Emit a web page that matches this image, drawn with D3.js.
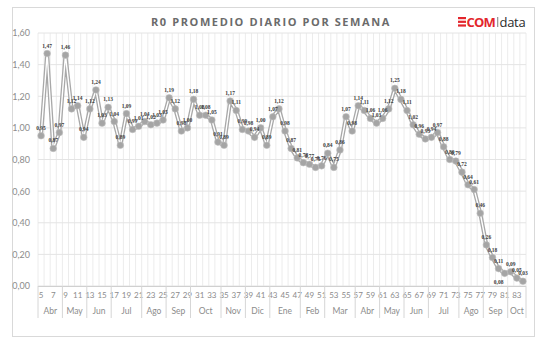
<!DOCTYPE html>
<html>
<head>
<meta charset="utf-8">
<script src="https://cdn.jsdelivr.net/npm/d3@7"></script>
<style>
html,body{margin:0;padding:0;background:#fff;}
svg{display:block;}
</style>
</head>
<body>
<script>
// ---- DATA ----
const weeks = [5,6,7,8,9,10,11,12,13,14,15,16,17,18,19,20,21,22,23,24,25,26,27,28,29,30,31,32,33,34,35,36,37,38,39,40,41,42,43,44,45,46,47,48,49,50,51,52,53,54,55,56,57,58,59,60,61,62,63,64,65,66,67,68,69,70,71,72,73,74,75,76,77,78,79,80,81,82,83,84];
const r0Values = [0.95,1.47,0.87,0.97,1.46,1.12,1.14,0.94,1.12,1.24,1.03,1.13,1.04,0.89,1.09,0.99,1.01,1.04,1.02,1.03,1.05,1.19,1.12,0.98,1.00,1.18,1.08,1.08,1.05,0.91,0.89,1.17,1.11,0.99,0.98,0.94,1.00,0.89,1.07,1.12,0.98,0.87,0.81,0.78,0.77,0.75,0.76,0.84,0.75,0.86,1.07,0.98,1.14,1.11,1.06,1.03,1.06,1.12,1.25,1.18,1.11,1.02,0.96,0.93,0.94,0.97,0.88,0.80,0.79,0.72,0.64,0.61,0.46,0.26,0.18,0.11,0.08,0.09,0.05,0.03];
const monthLabels = ["Abr","May","Jun","Jul","Ago","Sep","Oct","Nov","Dic","Ene","Feb","Mar","Abr","May","Jun","Jul","Ago","Sep","Oct"];
const monthWeekCounts = [4,4,4,5,4,4,5,4,4,5,4,5,4,4,4,5,4,4,3];
const yTicks = [0,0.2,0.4,0.6,0.8,1.0,1.2,1.4,1.6];
const weekTickLabels = [5,7,9,11,13,15,17,19,21,23,25,27,29,31,33,35,37,39,41,43,45,47,49,51,53,55,57,59,61,63,65,67,69,71,73,75,77,79,81,83];
const titleText = "R0 PROMEDIO DIARIO POR SEMANA";

// ---- CHART ----
(function () {
const W = 538, H = 340;
const svg = d3.select("body").append("svg").attr("width", W).attr("height", H);
const font = "Lato, 'Open Sans', sans-serif";

svg.append("rect").attr("x", 12.5).attr("y", 7.5).attr("width", 522).attr("height", 329)
  .attr("fill", "#fff").attr("stroke", "#d9d9d9");

const pLeft = 38, pRight = 526, pTop = 33, pBottom = 286;
const x = d3.scaleBand().domain(weeks).range([pLeft, pRight]).padding(0);
const y = d3.scaleLinear().domain([0, 1.6]).range([pBottom, pTop]);
const fmt = v => d3.format(".2f")(v).replace(".", ",");

// grid
const g = svg.append("g");
g.selectAll("line.v").data(weeks.concat(["end"])).join("line")
  .attr("x1", d => d === "end" ? pRight : x(d)).attr("x2", d => d === "end" ? pRight : x(d))
  .attr("y1", pTop).attr("y2", pBottom).attr("stroke", "#ececec").attr("stroke-width", 1);
g.selectAll("line.h").data(yTicks).join("line")
  .attr("x1", pLeft).attr("x2", pRight).attr("y1", d => y(d)).attr("y2", d => y(d))
  .attr("stroke", "#e4e4e4").attr("stroke-width", 1);

// y axis labels
const yAxis = d3.axisLeft(y).tickValues(yTicks).tickFormat(fmt).tickSize(0).tickPadding(8);
svg.append("g").attr("transform", `translate(${pLeft},0)`).call(yAxis)
  .call(s => s.select(".domain").remove())
  .selectAll("text").attr("font-family", font).attr("font-size", 9).attr("fill", "#8c8c8c");

// x axis line
svg.append("line").attr("x1", pLeft).attr("x2", pRight).attr("y1", pBottom + 0.5).attr("y2", pBottom + 0.5)
  .attr("stroke", "#d0d0d0");

// week labels
const xAxis = d3.axisBottom(x).tickValues(weekTickLabels).tickSize(0).tickPadding(6);
svg.append("g").attr("transform", `translate(0,${pBottom})`).call(xAxis)
  .call(s => s.select(".domain").remove())
  .selectAll("text").attr("font-family", font).attr("font-size", 8).attr("fill", "#8c8c8c");

// month groups
let cum = 0;
const monthData = monthLabels.map((m, i) => {
  const startW = weeks[cum];
  const endW = weeks[cum + monthWeekCounts[i] - 1];
  cum += monthWeekCounts[i];
  return { label: m, x0: x(startW), x1: x(endW) + x.bandwidth() };
});
const mg = svg.append("g");
mg.selectAll("line").data([monthData[0].x0].concat(monthData.map(d => d.x1))).join("line")
  .attr("x1", d => d).attr("x2", d => d).attr("y1", pBottom).attr("y2", 318)
  .attr("stroke", "#d6d6d6");
mg.selectAll("text").data(monthData).join("text")
  .attr("x", d => (d.x0 + d.x1) / 2).attr("y", 314).attr("text-anchor", "middle")
  .attr("font-family", font).attr("font-size", 8.5).attr("fill", "#8c8c8c").text(d => d.label);

// series
const pts = weeks.map((w, i) => ({ w, v: r0Values[i] }));
const line = d3.line().x(d => x(d.w) + x.bandwidth() / 2).y(d => y(d.v));
svg.append("path").datum(pts).attr("d", line).attr("fill", "none")
  .attr("stroke", "#a8a8a8").attr("stroke-width", 4).attr("stroke-linejoin", "round");
svg.append("path").datum(pts).attr("d", line).attr("fill", "none")
  .attr("stroke", "#ffffff").attr("stroke-width", 1.4).attr("stroke-linejoin", "round");
svg.append("g").selectAll("circle").data(pts).join("circle")
  .attr("cx", d => x(d.w) + x.bandwidth() / 2).attr("cy", d => y(d.v)).attr("r", 3.3)
  .attr("fill", "#a5a5a5").attr("stroke", "#bdbdbd").attr("stroke-width", 0.6);

// data labels
svg.append("g").selectAll("text").data(pts).join("text")
  .attr("x", d => x(d.w) + x.bandwidth() / 2 + (d.w === 81 ? -6 : 0))
  .attr("y", d => y(d.v) + (d.w === 81 ? 11 : -6))
  .attr("text-anchor", "middle")
  .attr("font-family", "'Liberation Serif', serif").attr("font-size", 5.5).attr("font-weight", "bold")
  .attr("fill", "#404040").text(d => fmt(d.v));

// title
svg.append("text").attr("x", 271).attr("y", 26).attr("text-anchor", "middle")
  .attr("font-family", "'Open Sans', sans-serif").attr("font-size", 11).attr("font-weight", "bold")
  .attr("letter-spacing", 1.6).attr("fill", "#6b6b6b").text(titleText);

// logo
const logo = svg.append("g").attr("transform", "translate(458,17)");
[0, 3.7, 7.4].forEach(dy => logo.append("rect").attr("x", 0).attr("y", dy).attr("width", 8).attr("height", 2.2).attr("fill", "#e3262d"));
logo.append("text").attr("x", 8.5).attr("y", 9.6).attr("font-family", "'Open Sans', sans-serif")
  .attr("font-size", 13).attr("font-weight", "bold").attr("letter-spacing", -0.8).attr("fill", "#e3262d").text("COM");
logo.append("rect").attr("x", 39).attr("y", 0).attr("width", 1.3).attr("height", 10).attr("fill", "#9a9a9a");
logo.append("text").attr("x", 41.5).attr("y", 9.6).attr("font-family", "'Open Sans', sans-serif")
  .attr("font-size", 13).attr("letter-spacing", -0.3).attr("fill", "#2b2b2b").text("data");
})();
</script>
</body>
</html>
